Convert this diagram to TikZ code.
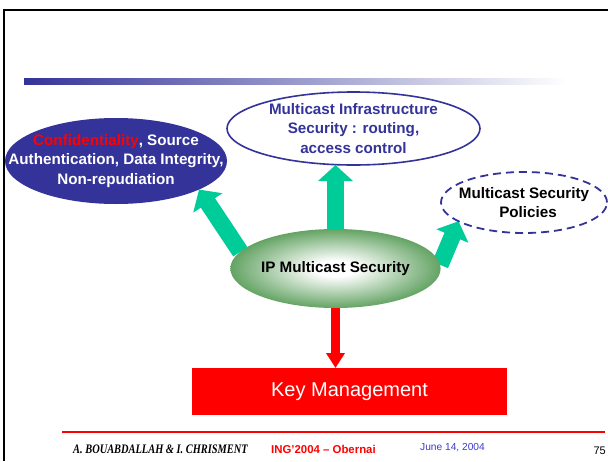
\documentclass[tikz,border=0pt]{standalone}
\usepackage{fontspec}
\setmainfont{Liberation Sans}
\newfontfamily\footserif{Liberation Serif}
\usepackage{tikz}
\usetikzlibrary{shapes.geometric,arrows.meta,backgrounds}
\definecolor{slideblue}{RGB}{51,51,153}
\definecolor{ipgreen}{RGB}{30,122,30}
\definecolor{arrowgreen}{RGB}{0,204,153}
\definecolor{dateblue}{RGB}{60,60,204}
\pgfdeclareradialshading{ipglow}{\pgfpoint{0bp}{0bp}}{color(0bp)=(white); color(5bp)=(white); color(34bp)=(ipgreen); color(50bp)=(ipgreen)}

\begin{document}
\begin{tikzpicture}[x=1pt,y=-1pt,
    bubble/.style={ellipse,inner sep=0pt,outer sep=0pt},
    bubbletext/.style={font=\fontsize{15.2}{19.5}\selectfont\bfseries,align=center},
    pusharrow/.style={line width=17pt,arrowgreen,-{Triangle[width=34pt,length=16pt]}},
    keyarrow/.style={line width=9pt,red,-{Triangle[width=18pt,length=15pt]}},
    foot/.style={anchor=base west,inner sep=0pt}]
  \useasboundingbox (0,0) rectangle (608,461);
  % slide frame and title bar
  \draw[line width=2pt] (608,10) -- (4,10) -- (4,461);
  \shade[left color=slideblue,right color=white] (24,78) rectangle (566,84);
  % the four bubbles
  \node[bubble,fill=slideblue,minimum width=222pt,minimum height=86pt,
    label={[bubbletext,text=white]center:{\textcolor{red}{Confidentiality}, Source\\Authentication, Data Integrity,\\Non-repudiation}}] (conf) at (116,161) {};
  \node[bubble,draw=slideblue,fill=white,line width=1.6pt,minimum width=253pt,minimum height=73pt,
    label={[bubbletext,text=slideblue]center:{Multicast Infrastructure\\Security : routing,\\access control}}] (infra) at (353.5,128.5) {};
  \node[bubble,draw=slideblue,line width=1.8pt,dash pattern=on 8pt off 5pt,minimum width=166pt,minimum height=61pt,
    label={[bubbletext]center:{Multicast Security\\\hspace*{8pt}Policies}}] (policy) at (524,202.5) {};
  \node[bubble,shading=ipglow,minimum width=209pt,minimum height=79pt,bubbletext] (ip) at (335.5,268.5) {IP Multicast Security};
  \node[fill=red,minimum width=315pt,minimum height=47pt,inner sep=0pt,outer sep=0pt,text=white,
    font=\fontsize{20}{24}\selectfont] (key) at (349.5,391.5) {Key Management};
  % arrows
  \begin{scope}[on background layer]
    \draw[pusharrow] (ip.170.5) -- (conf.-19);
    \draw[pusharrow] (ip.north) -- (ip.north |- infra.south);
    \draw[pusharrow] (ip.2) -- (policy.196);
  \end{scope}
  \draw[keyarrow] (ip.south) -- (ip.south |- key.north);
  % footer
  \draw[red,line width=2pt] (62,432) -- (605,432);
  \node[foot] (authors) at (73,453) {\footserif\bfseries\itshape\fontsize{13}{13}\selectfont\scalebox{0.8}[1]{A. BOUABDALLAH \& I. CHRISMENT}};
  \node[foot,text=red,font=\bfseries\fontsize{11.4}{12}\selectfont] (venue) at (271,453) {ING'2004 -- Obernai};
  \node[foot,text=dateblue,font=\fontsize{10.2}{12}\selectfont] (date) at (420,450) {June 14, 2004};
  \node[anchor=base east,inner sep=0pt,font=\fontsize{11}{12}\selectfont] (page) at (606,454) {75};
\end{tikzpicture}
\end{document}
